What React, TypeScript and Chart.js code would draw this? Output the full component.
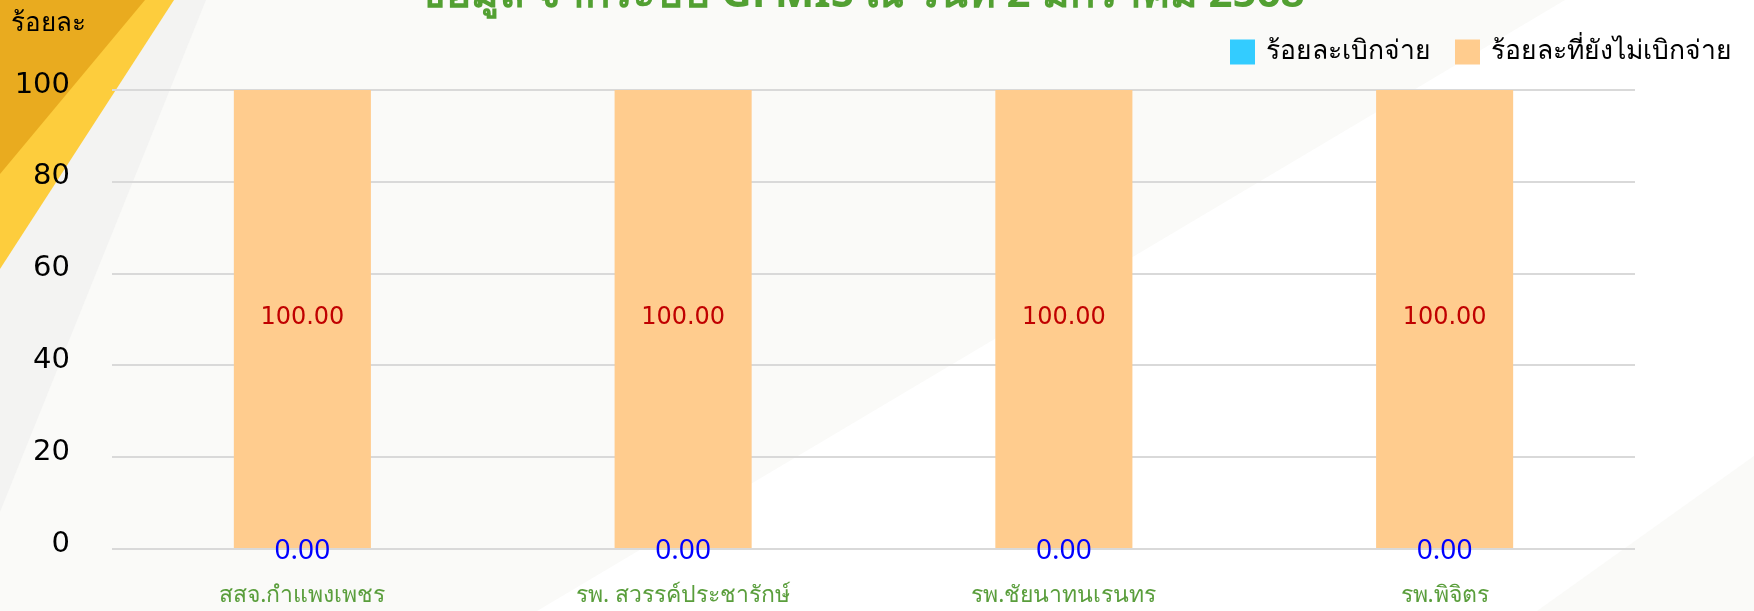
import React, { useEffect, useRef } from 'react';
import { Chart, registerables } from 'chart.js';

Chart.register(...registerables);

const categories = ['สสจ.กำแพงเพชร', 'รพ. สวรรค์ประชารักษ์', 'รพ.ชัยนาทนเรนทร', 'รพ.พิจิตร'];
const disbursedPct = [0, 0, 0, 0];
const notDisbursedPct = [100, 100, 100, 100];
const seriesNames = ['ร้อยละเบิกจ่าย', 'ร้อยละที่ยังไม่เบิกจ่าย'];
const seriesColors = ['#33CCFF', '#FFCC8E'];
const labelColors = ['#0000FF', '#C00000'];
const yMin = 0;
const yMax = 100;
const yStep = 20;
const titleText = 'ข้อมูล จากระบบ GFMIS ณ วันที่ 2 มกราคม 2568';
const yAxisTitle = 'ร้อยละ';

const FONT = '"Noto Sans", "DejaVu Sans", sans-serif';
const WIDE = '"DejaVu Sans", "Noto Sans", sans-serif';

const backgroundPlugin = {
  id: 'slideBackground',
  beforeDraw(chart: any) {
    const ctx = chart.ctx;
    const W = chart.width;
    const H = chart.height;
    ctx.save();
    ctx.fillStyle = '#FAFAF8';
    ctx.fillRect(0, 0, W, H);
    ctx.fillStyle = '#FFFFFF';
    ctx.beginPath();
    ctx.moveTo(1565, 0);
    ctx.lineTo(W, 0);
    ctx.lineTo(W, 456);
    ctx.lineTo(1537, H);
    ctx.lineTo(537, H);
    ctx.closePath();
    ctx.fill();
    ctx.fillStyle = '#F3F3F2';
    ctx.beginPath();
    ctx.moveTo(0, 0);
    ctx.lineTo(206, 0);
    ctx.lineTo(0, 512);
    ctx.closePath();
    ctx.fill();
    ctx.fillStyle = '#FDCD3D';
    ctx.beginPath();
    ctx.moveTo(0, 0);
    ctx.lineTo(174, 0);
    ctx.lineTo(0, 269);
    ctx.closePath();
    ctx.fill();
    ctx.fillStyle = '#E9AB1F';
    ctx.beginPath();
    ctx.moveTo(0, 0);
    ctx.lineTo(145, 0);
    ctx.lineTo(0, 174);
    ctx.closePath();
    ctx.fill();
    ctx.restore();
  },
};

const decorPlugin = {
  id: 'decor',
  afterDraw(chart: any) {
    const ctx = chart.ctx;
    ctx.save();
    // title (its top runs off the slide)
    ctx.fillStyle = '#52A032';
    ctx.font = `bold 42px ${FONT}`;
    ctx.textAlign = 'center';
    ctx.textBaseline = 'alphabetic';
    ctx.fillText(titleText, 861, 7);

    // y axis title
    ctx.fillStyle = '#000000';
    ctx.font = `26px ${FONT}`;
    ctx.textAlign = 'left';
    ctx.textBaseline = 'middle';
    ctx.fillText(yAxisTitle, 11, 24);

    // legend, right aligned
    ctx.font = `26.5px ${FONT}`;
    const box = 25;
    const gapText = 11;
    const gapItem = 24;
    const widths = seriesNames.map((n) => ctx.measureText(n).width);
    let total = 0;
    widths.forEach((w, i) => {
      total += box + gapText + w + (i < widths.length - 1 ? gapItem : 0);
    });
    let x = 1732 - total;
    const cy = 51;
    seriesNames.forEach((n, i) => {
      ctx.fillStyle = seriesColors[i];
      ctx.fillRect(x, cy - box / 2 + 1, box, box);
      ctx.fillStyle = '#000000';
      ctx.textAlign = 'left';
      ctx.textBaseline = 'middle';
      ctx.fillText(n, x + box + gapText, cy);
      x += box + gapText + widths[i] + gapItem;
    });
    ctx.restore();
  },
};

const valueLabelPlugin = {
  id: 'valueLabels',
  afterDatasetsDraw(chart: any) {
    const ctx = chart.ctx;
    ctx.save();
    ctx.textAlign = 'center';
    ctx.textBaseline = 'alphabetic';
    const order = [1, 0];
    order.forEach((di) => {
      const meta = chart.getDatasetMeta(di);
      const ds = chart.data.datasets[di];
      ctx.fillStyle = labelColors[di];
      const size = di === 1 ? 24 : 28;
      ctx.font = di === 1 ? `${size}px ${WIDE}` : `${size}px ${FONT}`;
      const shift = di === 1 ? 0.22 : 0.34;
      meta.data.forEach((el: any, j: number) => {
        const p = el.getProps(['x', 'y', 'base'], true);
        const v = ds.data[j] as number;
        ctx.fillText(v.toFixed(2), p.x, (p.y + p.base) / 2 + size * shift);
      });
    });
    ctx.restore();
  },
};

export default function App() {
  const ref = useRef<HTMLCanvasElement | null>(null);
  useEffect(() => {
    document.body.style.margin = '0';
    const canvas = ref.current;
    if (!canvas) return;
    const chart = new Chart(canvas, {
      type: 'bar',
      data: {
        labels: categories,
        datasets: [
          {
            label: seriesNames[0],
            data: disbursedPct,
            backgroundColor: seriesColors[0],
            categoryPercentage: 0.8,
            barPercentage: 0.45,
          },
          {
            label: seriesNames[1],
            data: notDisbursedPct,
            backgroundColor: seriesColors[1],
            categoryPercentage: 0.8,
            barPercentage: 0.45,
          },
        ],
      },
      options: {
        responsive: false,
        animation: false,
        layout: { padding: { top: 90, right: 119, left: 0, bottom: 0 } },
        plugins: {
          legend: { display: false },
          title: { display: false },
          tooltip: { enabled: false },
        },
        scales: {
          x: {
            stacked: true,
            grid: { display: false, drawTicks: false },
            border: { display: false },
            ticks: {
              color: '#5A9E3C',
              font: { family: FONT, size: 23 },
              padding: 33,
              maxRotation: 0,
              autoSkip: false,
            },
            afterFit: (scale: any) => {
              scale.height = 62;
            },
          },
          y: {
            stacked: true,
            min: yMin,
            max: yMax,
            grid: { color: '#D9D9D9', lineWidth: 2, drawTicks: false },
            border: { display: false },
            ticks: {
              stepSize: yStep,
              color: '#000000',
              font: { family: WIDE, size: 29 },
              padding: 42,
              labelOffset: -5,
            },
            afterFit: (scale: any) => {
              scale.width = 112;
            },
          },
        },
      },
      plugins: [backgroundPlugin, valueLabelPlugin, decorPlugin],
    });
    let alive = true;
    const fonts: any = (document as any).fonts;
    if (fonts && fonts.load) {
      Promise.all([
        fonts.load('22px "Noto Sans"', 'ร้อยละ 0.00'),
        fonts.load('bold 42px "Noto Sans"', titleText),
        fonts.load('24px "DejaVu Sans"', '100.00'),
      ])
        .catch(() => null)
        .then(() => (fonts.ready ? fonts.ready : null))
        .then(() => {
          if (alive) chart.update('none');
        });
    }
    return () => {
      alive = false;
      chart.destroy();
    };
  }, []);
  return (
    <div style={{ position: 'absolute', left: 0, top: 0, width: 1754, height: 611 }}>
      <canvas ref={ref} width={1754} height={611} style={{ display: 'block' }} />
    </div>
  );
}
